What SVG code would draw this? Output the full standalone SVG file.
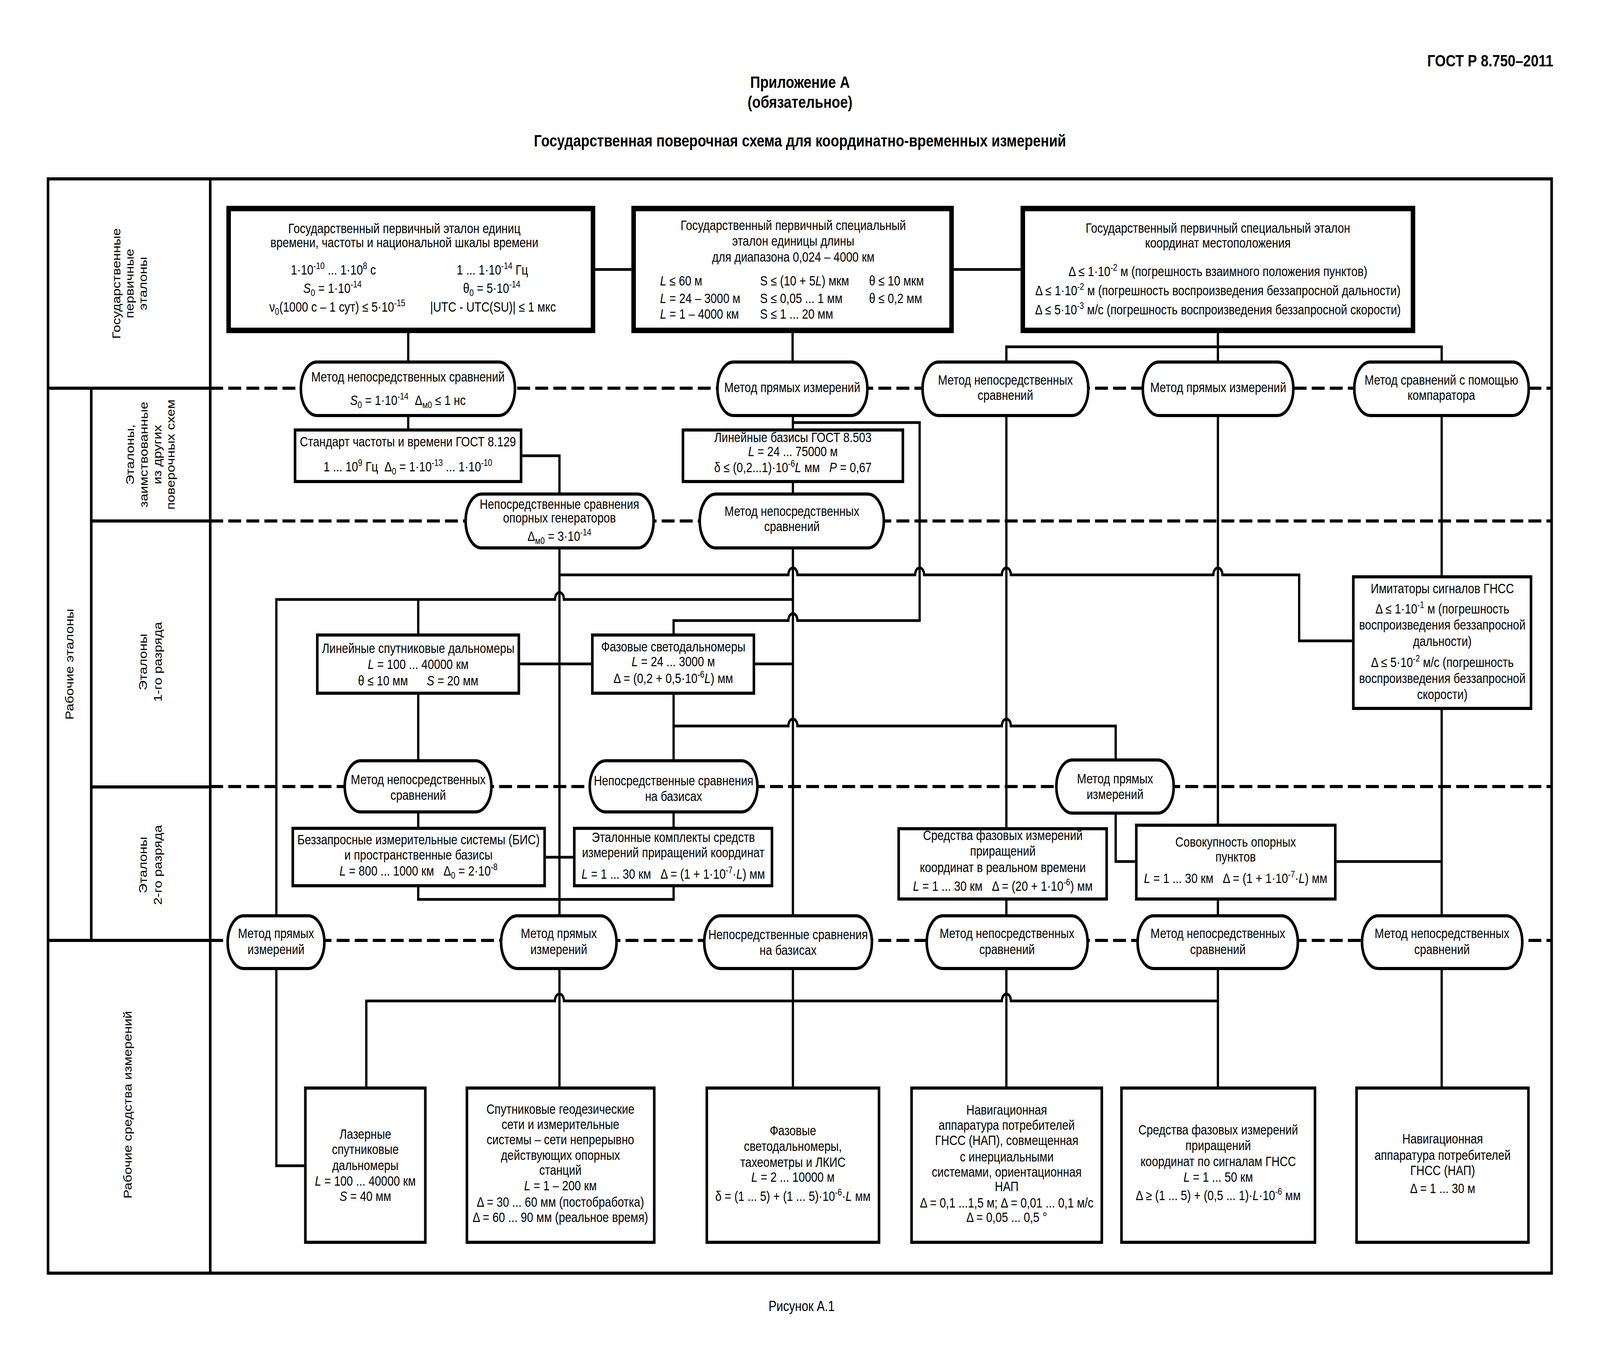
<svg xmlns="http://www.w3.org/2000/svg" width="4962" height="3508" viewBox="0 0 4962 3508" preserveAspectRatio="none" style="width:100%;height:100%">
<style>
.bt{fill:#fff;stroke:#000;stroke-width:14}
.bx{fill:#fff;stroke:#000;stroke-width:8}
.ov{fill:#fff;stroke:#000;stroke-width:8}
.c{fill:none;stroke:#000;stroke-width:7}
.d{fill:none;stroke:#000;stroke-width:8;stroke-dasharray:40 16}
.fr{fill:none;stroke:#000;stroke-width:8}
text{font-family:"Liberation Sans",Arial,sans-serif;font-size:35px;fill:#000}
.m{text-anchor:middle}
.s{font-size:24px}
.i{font-style:italic}
.h{font-weight:bold;font-size:43px}
</style>
<rect width="4962" height="3508" fill="#fff"/>
<g id="header">
<text class="h" x="4817" y="170" text-anchor="end">ГОСТ Р 8.750–2011</text>
<text class="h m" x="2481" y="225">Приложение А</text>
<text class="h m" x="2481" y="276">(обязательное)</text>
<text class="h m" x="2481" y="375">Государственная поверочная схема для координатно-временных измерений</text>
<text class="m" x="2486" y="3357" style="font-size:37px">Рисунок А.1</text>
</g>
<g id="frame">
<rect class="fr" x="149" y="458" width="4663" height="2802"/>
<path class="fr" d="M652,458 V3260 M283,994 V2408 M149,994 H652 M283,1334 H652 M283,2015 H652 M149,2408 H652"/>
</g>
<g id="row-labels">
<text class="m" transform="translate(373,726) rotate(-90)">Государственные</text>
<text class="m" transform="translate(414,726) rotate(-90)">первичные</text>
<text class="m" transform="translate(455,726) rotate(-90)">эталоны</text>
<text class="m" transform="translate(228,1701) rotate(-90)">Рабочие эталоны</text>
<text class="m" transform="translate(416,1164) rotate(-90)">Эталоны,</text>
<text class="m" transform="translate(458,1164) rotate(-90)">заимствованные</text>
<text class="m" transform="translate(500,1164) rotate(-90)">из других</text>
<text class="m" transform="translate(542,1164) rotate(-90)">поверочных схем</text>
<text class="m" transform="translate(456,1695) rotate(-90)">Эталоны</text>
<text class="m" transform="translate(502,1695) rotate(-90)">1-го разряда</text>
<text class="m" transform="translate(456,2215) rotate(-90)">Эталоны</text>
<text class="m" transform="translate(502,2215) rotate(-90)">2-го разряда</text>
<text class="m" transform="translate(408,2829) rotate(-90)">Рабочие средства измерений</text>
</g>
<g id="levels">
<path class="d" d="M652,994 H4812 M652,1334 H4812 M652,2014 H4812 M652,2408 H4812"/>
</g>
<g id="connectors">
<path class="c" d="M1846,690 H1958 M2958,690 H3165"/>
<path class="c" d="M1266,853 V923 M1266,1068 V1097 M1620,1167 H1735 V1261"/>
<path class="c" d="M2458,853 V923 M2459,1068 V1097 M2459,1237 V1261 M2459,1407 V2341 M2459,2484 V2782"/>
<path class="c" d="M2459,1082 H2852 V1589 H2473 A14 18 0 0 0 2445,1589 H2089 V1622"/>
<path class="c" d="M3777,853 V923 M3121,923 V888 H4471 V923"/>
<path class="c" d="M3121,1068 V2118 M3777,1068 V2109 M4471,1068 V1473"/>
<path class="c" d="M1735,1407 V2341"/>
<path class="c" d="M1735,1472 H2445 A14 18 0 0 1 2473,1472 H2838 A14 18 0 0 1 2866,1472 H3107 A14 18 0 0 1 3135,1472 H3763 A14 18 0 0 1 3791,1472 H4029 V1641 H4193"/>
<path class="c" d="M857,2341 V1535 H1721 A14 18 0 0 1 1749,1535 H2459 M1297,1535 V1622"/>
<path class="c" d="M1613,1700 H1833 M2342,1700 H2459"/>
<path class="c" d="M1297,1779 V1944 M1297,2083 V2117 M1297,2272 V2303 H2089 V2272"/>
<path class="c" d="M2089,1779 V1944 M2089,2083 V2117"/>
<path class="c" d="M2089,1859 H2445 A14 18 0 0 1 2473,1859 H3107 A14 18 0 0 1 3135,1859 H3460 V1942"/>
<path class="c" d="M1693,2195 H1777"/>
<path class="c" d="M3460,2086 V2206 H3520 M4145,2206 H4471 M4471,1818 V2341 M4471,2484 V2782"/>
<path class="c" d="M3121,2306 V2341 M3121,2484 V2782 M3777,2306 V2341 M3777,2484 V2782"/>
<path class="c" d="M857,2484 V2985 H943 M1735,2484 V2782"/>
<path class="c" d="M1136,2782 V2563 H1721 A14 18 0 0 1 1749,2563 H3107 A14 18 0 0 1 3135,2563 H3777"/>
</g>
<g id="n-primary-time">
<rect class="bt" x="709" y="534" width="1130" height="312"/>
<text class="m" x="1254" y="597">Государственный первичный эталон единиц</text>
<text class="m" x="1254" y="633">времени, частоты и национальной шкалы времени</text>
<text class="m" x="1034" y="703">1·10<tspan class="s" dy="-14">-10</tspan><tspan dy="14"> ... 1·10</tspan><tspan class="s" dy="-14">8</tspan><tspan dy="14"> с</tspan></text>
<text class="m" x="1527" y="703">1 ... 1·10<tspan class="s" dy="-14">-14</tspan><tspan dy="14"> Гц</tspan></text>
<text class="m" x="1031" y="750"><tspan class="i">S</tspan><tspan class="s" dy="8">0</tspan><tspan dy="-8"> = 1·10</tspan><tspan class="s" dy="-14">-14</tspan></text>
<text class="m" x="1525" y="750">θ<tspan class="s" dy="8">0</tspan><tspan dy="-8"> = 5·10</tspan><tspan class="s" dy="-14">-14</tspan></text>
<text class="m" x="1046" y="798">ν<tspan class="s" dy="8">0</tspan><tspan dy="-8">(1000 с – 1 сут) ≤ 5·10</tspan><tspan class="s" dy="-14">-15</tspan></text>
<text class="m" x="1529" y="798">|UTC - UTC(SU)| ≤ 1 мкс</text>
</g>
<g id="n-primary-length">
<rect class="bt" x="1965" y="534" width="986" height="312"/>
<text class="m" x="2460" y="589">Государственный первичный специальный</text>
<text class="m" x="2460" y="629">эталон единицы длины</text>
<text class="m" x="2460" y="670">для диапазона 0,024 – 4000 км</text>
<text x="2047" y="731"><tspan class="i">L</tspan> ≤ 60 м</text>
<text x="2047" y="776"><tspan class="i">L</tspan> = 24 – 3000 м</text>
<text x="2047" y="816"><tspan class="i">L</tspan> = 1 – 4000 км</text>
<text x="2357" y="731">S ≤ (10 + 5<tspan class="i">L</tspan>) мкм</text>
<text x="2357" y="776">S ≤ 0,05 ... 1 мм</text>
<text x="2357" y="816">S ≤ 1 ... 20 мм</text>
<text x="2695" y="731">θ ≤ 10 мкм</text>
<text x="2695" y="776">θ ≤ 0,2 мм</text>
</g>
<g id="n-primary-coord">
<rect class="bt" x="3172" y="534" width="1210" height="312"/>
<text class="m" x="3777" y="596">Государственный первичный специальный эталон</text>
<text class="m" x="3777" y="634">координат местоположения</text>
<text class="m" x="3777" y="707">Δ ≤ 1·10<tspan class="s" dy="-14">-2</tspan><tspan dy="14"> м (погрешность взаимного положения пунктов)</tspan></text>
<text class="m" x="3777" y="756">Δ ≤ 1·10<tspan class="s" dy="-14">-2</tspan><tspan dy="14"> м (погрешность воспроизведения беззапросной дальности)</tspan></text>
<text class="m" x="3777" y="805">Δ ≤ 5·10<tspan class="s" dy="-14">-3</tspan><tspan dy="14"> м/с (погрешность воспроизведения беззапросной скорости)</tspan></text>
</g>
<g id="m-1">
<path class="ov" d="M983,927 H1547 A50 68.5 0 0 1 1547,1064 H983 A50 68.5 0 0 1 983,927 Z"/>
<text class="m" x="1265" y="977">Метод непосредственных сравнений</text>
<text class="m" x="1265" y="1037"><tspan class="i">S</tspan><tspan class="s" dy="8">0</tspan><tspan dy="-8"> = 1·10</tspan><tspan class="s" dy="-14">-14</tspan><tspan dy="14">&#160;&#160;Δ</tspan><tspan class="s" dy="8">м0</tspan><tspan dy="-8"> ≤ 1 нс</tspan></text>
</g>
<g id="m-2">
<path class="ov" d="M2275,927 H2640 A50 68.5 0 0 1 2640,1064 H2275 A50 68.5 0 0 1 2275,927 Z"/>
<text class="m" x="2457" y="1004">Метод прямых измерений</text>
</g>
<g id="m-3">
<path class="ov" d="M2911,927 H3325 A50 68.5 0 0 1 3325,1064 H2911 A50 68.5 0 0 1 2911,927 Z"/>
<text class="m" x="3118" y="985">Метод непосредственных</text>
<text class="m" x="3118" y="1024">сравнений</text>
</g>
<g id="m-4">
<path class="ov" d="M3594,927 H3961 A50 68.5 0 0 1 3961,1064 H3594 A50 68.5 0 0 1 3594,927 Z"/>
<text class="m" x="3778" y="1004">Метод прямых измерений</text>
</g>
<g id="m-5">
<path class="ov" d="M4250,927 H4691 A50 68.5 0 0 1 4691,1064 H4250 A50 68.5 0 0 1 4250,927 Z"/>
<text class="m" x="4470" y="985">Метод сравнений с помощью</text>
<text class="m" x="4470" y="1024">компаратора</text>
</g>
<g id="n-std-freq">
<rect class="bx" x="915" y="1101" width="701" height="132"/>
<text class="m" x="1265" y="1143">Стандарт частоты и времени ГОСТ 8.129</text>
<text class="m" x="1265" y="1207">1 ... 10<tspan class="s" dy="-14">9</tspan><tspan dy="14"> Гц&#160;&#160;Δ</tspan><tspan class="s" dy="8">0</tspan><tspan dy="-8"> = 1·10</tspan><tspan class="s" dy="-14">-13</tspan><tspan dy="14"> ... 1·10</tspan><tspan class="s" dy="-14">-10</tspan></text>
</g>
<g id="n-lin-bases">
<rect class="bx" x="2118" y="1101" width="682" height="132"/>
<text class="m" x="2459" y="1132">Линейные базисы ГОСТ 8.503</text>
<text class="m" x="2459" y="1168"><tspan class="i">L</tspan> = 24 ... 75000 м</text>
<text class="m" x="2459" y="1209">δ ≤ (0,2...1)·10<tspan class="s" dy="-14">-6</tspan><tspan dy="14" class="i">L</tspan><tspan> мм&#160;&#160;&#160;</tspan><tspan class="i">P</tspan><tspan> = 0,67</tspan></text>
</g>
<g id="m-6">
<path class="ov" d="M1494,1265 H1977 A50 69 0 0 1 1977,1403 H1494 A50 69 0 0 1 1494,1265 Z"/>
<text class="m" x="1735" y="1303">Непосредственные сравнения</text>
<text class="m" x="1735" y="1338">опорных генераторов</text>
<text class="m" x="1735" y="1385">Δ<tspan class="s" dy="8">м0</tspan><tspan dy="-8"> = 3·10</tspan><tspan class="s" dy="-14">-14</tspan></text>
</g>
<g id="m-7">
<path class="ov" d="M2220,1265 H2691 A50 69 0 0 1 2691,1403 H2220 A50 69 0 0 1 2220,1265 Z"/>
<text class="m" x="2456" y="1321">Метод непосредственных</text>
<text class="m" x="2456" y="1360">сравнений</text>
</g>
<g id="n-sat-range">
<rect class="bx" x="984" y="1626" width="625" height="149"/>
<text class="m" x="1297" y="1672">Линейные спутниковые дальномеры</text>
<text class="m" x="1297" y="1713"><tspan class="i">L</tspan> = 100 ... 40000 км</text>
<text class="m" x="1297" y="1755">θ ≤ 10 мм&#160;&#160;&#160;&#160;&#160;&#160;<tspan class="i">S</tspan> = 20 мм</text>
</g>
<g id="n-phase-range">
<rect class="bx" x="1837" y="1626" width="501" height="149"/>
<text class="m" x="2088" y="1668">Фазовые светодальномеры</text>
<text class="m" x="2088" y="1706"><tspan class="i">L</tspan> = 24 ... 3000 м</text>
<text class="m" x="2088" y="1749">Δ = (0,2 + 0,5·10<tspan class="s" dy="-14">-6</tspan><tspan dy="14" class="i">L</tspan><tspan>) мм</tspan></text>
</g>
<g id="n-simulators">
<rect class="bx" x="4197" y="1477" width="551" height="337"/>
<text class="m" x="4473" y="1519">Имитаторы сигналов ГНСС</text>
<text class="m" x="4473" y="1571">Δ ≤ 1·10<tspan class="s" dy="-14">-1</tspan><tspan dy="14"> м (погрешность</tspan></text>
<text class="m" x="4473" y="1612">воспроизведения беззапросной</text>
<text class="m" x="4473" y="1654">дальности)</text>
<text class="m" x="4473" y="1708">Δ ≤ 5·10<tspan class="s" dy="-14">-2</tspan><tspan dy="14"> м/с (погрешность</tspan></text>
<text class="m" x="4473" y="1749">воспроизведения беззапросной</text>
<text class="m" x="4473" y="1790">скорости)</text>
</g>
<g id="m-8">
<path class="ov" d="M1119,1948 H1474 A50 65.5 0 0 1 1474,2079 H1119 A50 65.5 0 0 1 1119,1948 Z"/>
<text class="m" x="1297" y="2008">Метод непосредственных</text>
<text class="m" x="1297" y="2048">сравнений</text>
</g>
<g id="m-9">
<path class="ov" d="M1879,1948 H2299 A50 65.5 0 0 1 2299,2079 H1879 A50 65.5 0 0 1 1879,1948 Z"/>
<text class="m" x="2089" y="2011">Непосредственные сравнения</text>
<text class="m" x="2089" y="2051">на базисах</text>
</g>
<g id="m-10">
<path class="ov" d="M3326,1946 H3590 A50 68 0 0 1 3590,2082 H3326 A50 68 0 0 1 3326,1946 Z"/>
<text class="m" x="3458" y="2006">Метод прямых</text>
<text class="m" x="3458" y="2046">измерений</text>
</g>
<g id="n-bis">
<rect class="bx" x="908" y="2121" width="781" height="147"/>
<text class="m" x="1298" y="2162">Беззапросные измерительные системы (БИС)</text>
<text class="m" x="1298" y="2201">и пространственные базисы</text>
<text class="m" x="1298" y="2242"><tspan class="i">L</tspan> = 800 ... 1000 км&#160;&#160;&#160;Δ<tspan class="s" dy="8">0</tspan><tspan dy="-8"> = 2·10</tspan><tspan class="s" dy="-14">-8</tspan></text>
</g>
<g id="n-etalon-sets">
<rect class="bx" x="1781" y="2121" width="613" height="147"/>
<text class="m" x="2088" y="2156">Эталонные комплекты средств</text>
<text class="m" x="2088" y="2195">измерений приращений координат</text>
<text class="m" x="2088" y="2250"><tspan class="i">L</tspan> = 1 ... 30 км&#160;&#160;&#160;Δ = (1 + 1·10<tspan class="s" dy="-14">-7</tspan><tspan dy="14">·</tspan><tspan class="i">L</tspan><tspan>) мм</tspan></text>
</g>
<g id="n-phase-realtime">
<rect class="bx" x="2787" y="2122" width="645" height="180"/>
<text class="m" x="3110" y="2151">Средства фазовых измерений</text>
<text class="m" x="3110" y="2191">приращений</text>
<text class="m" x="3110" y="2233">координат в реальном времени</text>
<text class="m" x="3110" y="2281"><tspan class="i">L</tspan> = 1 ... 30 км&#160;&#160;&#160;Δ = (20 + 1·10<tspan class="s" dy="-14">-6</tspan><tspan dy="14">) мм</tspan></text>
</g>
<g id="n-ref-points">
<rect class="bx" x="3524" y="2113" width="617" height="189"/>
<text class="m" x="3832" y="2168">Совокупность опорных</text>
<text class="m" x="3832" y="2206">пунктов</text>
<text class="m" x="3832" y="2261"><tspan class="i">L</tspan> = 1 ... 30 км&#160;&#160;&#160;Δ = (1 + 1·10<tspan class="s" dy="-14">-7</tspan><tspan dy="14">·</tspan><tspan class="i">L</tspan><tspan>) мм</tspan></text>
</g>
<g id="m-12">
<path class="ov" d="M756,2345 H956 A50 67.5 0 0 1 956,2480 H756 A50 67.5 0 0 1 756,2345 Z"/>
<text class="m" x="856" y="2402">Метод прямых</text>
<text class="m" x="856" y="2443">измерений</text>
</g>
<g id="m-13">
<path class="ov" d="M1604,2345 H1862 A50 67.5 0 0 1 1862,2480 H1604 A50 67.5 0 0 1 1604,2345 Z"/>
<text class="m" x="1733" y="2402">Метод прямых</text>
<text class="m" x="1733" y="2443">измерений</text>
</g>
<g id="m-14">
<path class="ov" d="M2234,2345 H2654 A50 67.5 0 0 1 2654,2480 H2234 A50 67.5 0 0 1 2234,2345 Z"/>
<text class="m" x="2444" y="2405">Непосредственные сравнения</text>
<text class="m" x="2444" y="2445">на базисах</text>
</g>
<g id="m-15">
<path class="ov" d="M2924,2345 H3323 A50 67.5 0 0 1 3323,2480 H2924 A50 67.5 0 0 1 2924,2345 Z"/>
<text class="m" x="3123" y="2402">Метод непосредственных</text>
<text class="m" x="3123" y="2443">сравнений</text>
</g>
<g id="m-16">
<path class="ov" d="M3578,2345 H3975 A50 67.5 0 0 1 3975,2480 H3578 A50 67.5 0 0 1 3578,2345 Z"/>
<text class="m" x="3777" y="2402">Метод непосредственных</text>
<text class="m" x="3777" y="2443">сравнений</text>
</g>
<g id="m-17">
<path class="ov" d="M4274,2345 H4671 A50 67.5 0 0 1 4671,2480 H4274 A50 67.5 0 0 1 4274,2345 Z"/>
<text class="m" x="4472" y="2402">Метод непосредственных</text>
<text class="m" x="4472" y="2443">сравнений</text>
</g>
<g id="w-laser">
<rect class="bx" x="947" y="2786" width="372" height="395"/>
<text class="m" x="1133" y="2916">Лазерные</text>
<text class="m" x="1133" y="2955">спутниковые</text>
<text class="m" x="1133" y="2996">дальномеры</text>
<text class="m" x="1133" y="3036"><tspan class="i">L</tspan> = 100 ... 40000 км</text>
<text class="m" x="1133" y="3075"><tspan class="i">S</tspan> = 40 мм</text>
</g>
<g id="w-geodetic">
<rect class="bx" x="1448" y="2786" width="581" height="395"/>
<text class="m" x="1738" y="2852">Спутниковые геодезические</text>
<text class="m" x="1738" y="2891">сети и измерительные</text>
<text class="m" x="1738" y="2930">системы – сети непрерывно</text>
<text class="m" x="1738" y="2970">действующих опорных</text>
<text class="m" x="1738" y="3008">станций</text>
<text class="m" x="1738" y="3048"><tspan class="i">L</tspan> = 1 – 200 км</text>
<text class="m" x="1738" y="3090">Δ = 30 ... 60 мм (постобработка)</text>
<text class="m" x="1738" y="3129">Δ = 60 ... 90 мм (реальное время)</text>
</g>
<g id="w-phase">
<rect class="bx" x="2192" y="2786" width="534" height="395"/>
<text class="m" x="2459" y="2907">Фазовые</text>
<text class="m" x="2459" y="2947">светодальномеры,</text>
<text class="m" x="2459" y="2988">тахеометры и ЛКИС</text>
<text class="m" x="2459" y="3026"><tspan class="i">L</tspan> = 2 ... 10000 м</text>
<text class="m" x="2459" y="3075">δ = (1 ... 5) + (1 ... 5)·10<tspan class="s" dy="-14">-6</tspan><tspan dy="14">·</tspan><tspan class="i">L</tspan><tspan> мм</tspan></text>
</g>
<g id="w-nap-inertial">
<rect class="bx" x="2827" y="2786" width="590" height="395"/>
<text class="m" x="3122" y="2854">Навигационная</text>
<text class="m" x="3122" y="2893">аппаратура потребителей</text>
<text class="m" x="3122" y="2932">ГНСС (НАП), совмещенная</text>
<text class="m" x="3122" y="2974">с инерциальными</text>
<text class="m" x="3122" y="3013">системами, ориентационная</text>
<text class="m" x="3122" y="3050">НАП</text>
<text class="m" x="3122" y="3092">Δ = 0,1 ...1,5 м; Δ = 0,01 ... 0,1 м/с</text>
<text class="m" x="3122" y="3129">Δ = 0,05 ... 0,5 °</text>
</g>
<g id="w-phase-gnss">
<rect class="bx" x="3478" y="2786" width="600" height="395"/>
<text class="m" x="3778" y="2905">Средства фазовых измерений</text>
<text class="m" x="3778" y="2945">приращений</text>
<text class="m" x="3778" y="2986">координат по сигналам ГНСС</text>
<text class="m" x="3778" y="3026"><tspan class="i">L</tspan> = 1 ... 50 км</text>
<text class="m" x="3778" y="3073">Δ ≥ (1 ... 5) + (0,5 ... 1)·<tspan class="i">L</tspan><tspan>·10</tspan><tspan class="s" dy="-14">-6</tspan><tspan dy="14"> мм</tspan></text>
</g>
<g id="w-nap">
<rect class="bx" x="4207" y="2786" width="533" height="395"/>
<text class="m" x="4474" y="2928">Навигационная</text>
<text class="m" x="4474" y="2970">аппаратура потребителей</text>
<text class="m" x="4474" y="3009">ГНСС (НАП)</text>
<text class="m" x="4474" y="3055">Δ = 1 ... 30 м</text>
</g>
</svg>
